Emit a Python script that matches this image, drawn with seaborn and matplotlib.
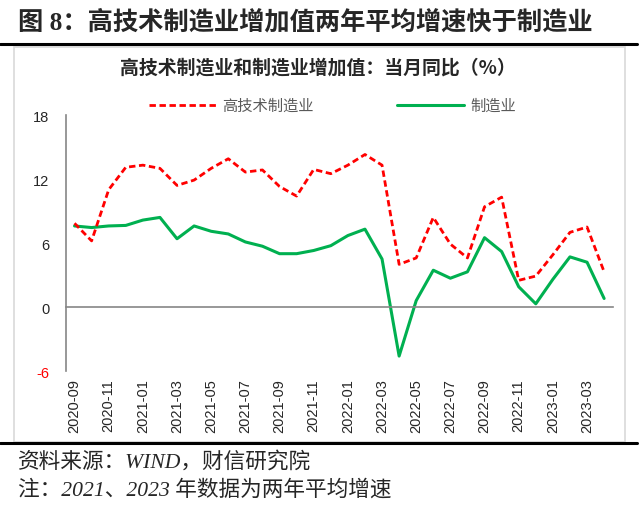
import numpy as np
import pandas as pd
import matplotlib
matplotlib.use("Agg")
import matplotlib.pyplot as plt
from matplotlib.lines import Line2D
from matplotlib.patches import Rectangle
import seaborn as sns

# 数据：当月同比（%）
months = ['2020-09', '2020-10', '2020-11', '2020-12',
          '2021-01', '2021-02', '2021-03', '2021-04', '2021-05', '2021-06',
          '2021-07', '2021-08', '2021-09', '2021-10', '2021-11', '2021-12',
          '2022-01', '2022-02', '2022-03', '2022-04', '2022-05', '2022-06',
          '2022-07', '2022-08', '2022-09', '2022-10', '2022-11', '2022-12',
          '2023-01', '2023-02', '2023-03', '2023-04']
high_tech = [7.85, 6.2, 11.0, 13.1, 13.3, 13.0, 11.4, 11.9, 13.0, 13.9,
             12.65, 12.85, 11.3, 10.4, 12.9, 12.5, 13.3, 14.3, 13.3, 4.0,
             4.6, 8.4, 5.9, 4.6, 9.4, 10.3, 2.5, 2.9, 4.9, 7.0, 7.5, 3.3]
manufacturing = [7.6, 7.45, 7.6, 7.65, 8.15, 8.4, 6.4, 7.6, 7.1, 6.85,
                 6.1, 5.7, 5.0, 5.0, 5.3, 5.75, 6.7, 7.3, 4.5, -4.6,
                 0.6, 3.45, 2.7, 3.3, 6.5, 5.2, 1.9, 0.3, 2.6, 4.7, 4.2, 0.8]
tick_labels = months[::2]
y_ticks = [-6, 0, 6, 12, 18]

df = pd.DataFrame({'month': months, 'pos': np.arange(len(months)),
                   'high_tech': high_tech, 'manufacturing': manufacturing})

sns.set_style("white")
plt.rcParams['font.family'] = ['Liberation Sans', 'Noto Sans CJK SC', 'DejaVu Sans']
plt.rcParams['axes.unicode_minus'] = False

fig = plt.figure(figsize=(6.4, 5.06), dpi=100)
ax = fig.add_axes([0.1031, 0.2648, 0.8542, 0.5059])

red = '#FF0000'
green = '#00B050'
sns.lineplot(data=df, x='pos', y='manufacturing', color=green, linewidth=2.2, ax=ax)
sns.lineplot(data=df, x='pos', y='high_tech', color=red, linewidth=2.0,
             dashes=False, ax=ax)
ax.lines[1].set_dashes((2.3, 1.3))

ax.set_xlim(-0.5, len(months) - 0.5)
ax.set_ylim(-6, 18)
ax.set_xlabel('')
ax.set_ylabel('')

# 坐标轴样式
axis_gray = '#868686'
for s in ['top', 'right']:
    ax.spines[s].set_visible(False)
ax.spines['bottom'].set_position(('data', 0))
ax.spines['bottom'].set_color(axis_gray)
ax.spines['left'].set_color(axis_gray)
ax.spines['bottom'].set_linewidth(1.2)
ax.spines['left'].set_linewidth(1.2)

ax.set_xticks(np.arange(-0.5, len(months), 2))
ax.tick_params(axis='x', direction='out', length=4, width=1.2, color=axis_gray,
               labelbottom=False)
ax.set_yticks(y_ticks)
ax.tick_params(axis='y', direction='out', length=4, width=1.2, color=axis_gray,
               labelsize=10.5, labelcolor='#262626', pad=8)
ax.set_yticklabels([str(v) for v in y_ticks])
ax.get_yticklabels()[0].set_color('red')

# 日期标签放在图底部
sec = ax.secondary_xaxis(0)
sec.set_xticks(df['pos'][::2], tick_labels, rotation=90)
sec.tick_params(length=0, pad=5, labelsize=10.5, labelcolor='#262626')
sec.spines['bottom'].set_visible(False)

# 图例
handles = [Line2D([], [], color=red, linewidth=2.0, dashes=(2.3, 1.3)),
           Line2D([], [], color=green, linewidth=2.2)]
fig.legend(handles, ['高技术制造业', '制造业'], loc='center', ncol=2,
           bbox_to_anchor=(0.5195, 0.7885), frameon=False, fontsize=11,
           handlelength=4.4, handletextpad=0.45, columnspacing=5.4,
           labelcolor='#595959')

# 外框与标题
fig.patches.append(Rectangle((0.0219, 0.124), 0.9547, 0.782, transform=fig.transFigure,
                             fill=False, edgecolor='#d9d9d9', linewidth=1.2))
fig.add_artist(Line2D([0.0, 0.995], [0.911, 0.911], color='black', linewidth=2.2,
                      transform=fig.transFigure))
fig.add_artist(Line2D([0.0, 0.995], [0.1225, 0.1225], color='black', linewidth=2.2,
                      transform=fig.transFigure))

fig.text(0.028, 0.956, '图 8：高技术制造业增加值两年平均增速快于制造业',
         fontsize=18.2, fontweight='bold', ha='left', va='center',
         family=['Liberation Serif', 'Noto Sans CJK SC'])
fig.text(0.496, 0.8656, '高技术制造业和制造业增加值：当月同比（%）',
         fontsize=13.6, fontweight='bold', ha='center', va='center', color='#262626',
         family=['Noto Sans CJK SC'])
fig.text(0.028, 0.087, '资料来源：WIND，财信研究院', fontsize=15.6, ha='left',
         va='center', style='italic', family=['Liberation Serif', 'Noto Sans CJK SC'])
fig.text(0.028, 0.031, '注：2021、2023 年数据为两年平均增速', fontsize=15.6, ha='left',
         va='center', style='italic', family=['Liberation Serif', 'Noto Sans CJK SC'])

fig.savefig('out.png', dpi=100)
